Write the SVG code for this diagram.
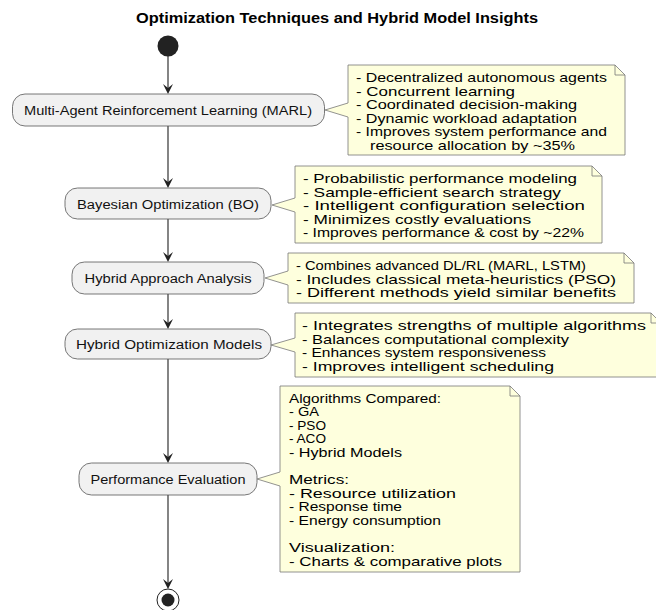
<svg xmlns="http://www.w3.org/2000/svg" width="656" height="610" viewBox="0 0 656 610">
<defs>
<style>
.title{font-family:"Liberation Sans",Arial,sans-serif;font-size:14px;font-weight:bold;fill:#000}
.node rect{fill:#F1F1F1;stroke:#555;stroke-width:0.8}
.node text{font-family:"Liberation Sans",Arial,sans-serif;font-size:12.5px;fill:#111;text-anchor:middle}
.note path.body{fill:#FEFFDD;stroke:#777;stroke-width:0.8}
.note path.fold{fill:none;stroke:#777;stroke-width:0.8}
.note text{font-family:"Liberation Sans",Arial,sans-serif;font-size:13.5px;fill:#000}
.edge{stroke:#333;stroke-width:1.2;fill:none}
.head{fill:#222}
</style>
</defs>
<rect width="656" height="610" fill="#fff"/>
<text class="title" x="136" y="23" textLength="402" lengthAdjust="spacingAndGlyphs">Optimization Techniques and Hybrid Model Insights</text>

<g id="connectors">
<line class="edge" x1="168" y1="56" x2="168" y2="90"/>
<polygon class="head" points="163,84 168,94 173,84 168,88"/>
<line class="edge" x1="168" y1="126" x2="168" y2="184"/>
<polygon class="head" points="163,178 168,188 173,178 168,182"/>
<line class="edge" x1="168" y1="219" x2="168" y2="258"/>
<polygon class="head" points="163,252 168,262 173,252 168,256"/>
<line class="edge" x1="168" y1="294" x2="168" y2="325"/>
<polygon class="head" points="163,319 168,329 173,319 168,323"/>
<line class="edge" x1="168" y1="359" x2="168" y2="459"/>
<polygon class="head" points="163,453 168,463 173,453 168,457"/>
<line class="edge" x1="168" y1="495" x2="168" y2="585"/>
<polygon class="head" points="163,579 168,589 173,579 168,583"/>
</g>

<g id="start"><circle cx="168" cy="46" r="10.5" fill="#222"/></g>
<g id="end"><circle cx="168" cy="600" r="11" fill="none" stroke="#222" stroke-width="1"/><circle cx="168" cy="600" r="6.5" fill="#222"/></g>

<g id="marl" class="node"><rect x="12.5" y="94" width="312" height="32" rx="12.5"/><text x="168" y="114.5" textLength="288" lengthAdjust="spacingAndGlyphs">Multi-Agent Reinforcement Learning (MARL)</text></g>
<g id="bo" class="node"><rect x="65" y="188" width="206" height="31" rx="12.5"/><text x="168" y="208.5" textLength="182" lengthAdjust="spacingAndGlyphs">Bayesian Optimization (BO)</text></g>
<g id="haa" class="node"><rect x="72" y="262" width="192" height="32" rx="12.5"/><text x="168" y="282.5" textLength="167" lengthAdjust="spacingAndGlyphs">Hybrid Approach Analysis</text></g>
<g id="hom" class="node"><rect x="65" y="329" width="206" height="30" rx="12.5"/><text x="169" y="348.5" textLength="186" lengthAdjust="spacingAndGlyphs">Hybrid Optimization Models</text></g>
<g id="pe" class="node"><rect x="79" y="463" width="178" height="32" rx="12.5"/><text x="168" y="483.5" textLength="155" lengthAdjust="spacingAndGlyphs">Performance Evaluation</text></g>

<g id="note1" class="note">
<path class="body" d="M348,65 L615,65 L625,75 L625,155 L348,155 L348,117 L325,110 L348,103 Z"/>
<path class="fold" d="M615,65 L615,75 L625,75"/>
<text x="356" y="82" textLength="251" lengthAdjust="spacingAndGlyphs">- Decentralized autonomous agents</text>
<text x="356" y="95.5" textLength="159" lengthAdjust="spacingAndGlyphs">- Concurrent learning</text>
<text x="356" y="109" textLength="221" lengthAdjust="spacingAndGlyphs">- Coordinated decision-making</text>
<text x="356" y="122.5" textLength="221" lengthAdjust="spacingAndGlyphs">- Dynamic workload adaptation</text>
<text x="356" y="136" textLength="251" lengthAdjust="spacingAndGlyphs">- Improves system performance and</text>
<text x="370" y="149.5" textLength="205" lengthAdjust="spacingAndGlyphs">resource allocation by ~35%</text>
</g>

<g id="note2" class="note">
<path class="body" d="M295,166 L592,166 L602,176 L602,243 L295,243 L295,212 L272,205 L295,198 Z"/>
<path class="fold" d="M592,166 L592,176 L602,176"/>
<text x="303" y="183" textLength="274" lengthAdjust="spacingAndGlyphs">- Probabilistic performance modeling</text>
<text x="303" y="196.5" textLength="258" lengthAdjust="spacingAndGlyphs">- Sample-efficient search strategy</text>
<text x="303" y="210" textLength="282" lengthAdjust="spacingAndGlyphs">- Intelligent configuration selection</text>
<text x="303" y="223.5" textLength="228" lengthAdjust="spacingAndGlyphs">- Minimizes costly evaluations</text>
<text x="303" y="237" textLength="281" lengthAdjust="spacingAndGlyphs">- Improves performance &amp; cost by ~22%</text>
</g>

<g id="note3" class="note">
<path class="body" d="M288,253 L624,253 L634,263 L634,303 L288,303 L288,285 L265,278 L288,271 Z"/>
<path class="fold" d="M624,253 L624,263 L634,263"/>
<text x="296" y="270" textLength="290" lengthAdjust="spacingAndGlyphs">- Combines advanced DL/RL (MARL, LSTM)</text>
<text x="296" y="283.5" textLength="320" lengthAdjust="spacingAndGlyphs">- Includes classical meta-heuristics (PSO)</text>
<text x="296" y="297" textLength="320" lengthAdjust="spacingAndGlyphs">- Different methods yield similar benefits</text>
</g>

<g id="note4" class="note">
<path class="body" d="M295,313 L651,313 L661,323 L661,377 L295,377 L295,352 L271,345 L295,338 Z"/>
<path class="fold" d="M651,313 L651,323 L661,323"/>
<text x="302" y="330" textLength="344" lengthAdjust="spacingAndGlyphs">- Integrates strengths of multiple algorithms</text>
<text x="302" y="343.5" textLength="267" lengthAdjust="spacingAndGlyphs">- Balances computational complexity</text>
<text x="302" y="357" textLength="244" lengthAdjust="spacingAndGlyphs">- Enhances system responsiveness</text>
<text x="302" y="370.5" textLength="252" lengthAdjust="spacingAndGlyphs">- Improves intelligent scheduling</text>
</g>

<g id="note5" class="note">
<path class="body" d="M280,386 L510,386 L520,396 L520,572 L280,572 L280,486 L257,479 L280,472 Z"/>
<path class="fold" d="M510,386 L510,396 L520,396"/>
<text x="289" y="402.5" textLength="152" lengthAdjust="spacingAndGlyphs">Algorithms Compared:</text>
<text x="289" y="416" textLength="30" lengthAdjust="spacingAndGlyphs">- GA</text>
<text x="289" y="429.5" textLength="37" lengthAdjust="spacingAndGlyphs">- PSO</text>
<text x="289" y="443" textLength="37" lengthAdjust="spacingAndGlyphs">- ACO</text>
<text x="289" y="456.5" textLength="113" lengthAdjust="spacingAndGlyphs">- Hybrid Models</text>
<text x="289" y="484" textLength="60" lengthAdjust="spacingAndGlyphs">Metrics:</text>
<text x="289" y="497.5" textLength="167" lengthAdjust="spacingAndGlyphs">- Resource utilization</text>
<text x="289" y="511" textLength="113" lengthAdjust="spacingAndGlyphs">- Response time</text>
<text x="289" y="524.5" textLength="152" lengthAdjust="spacingAndGlyphs">- Energy consumption</text>
<text x="289" y="552" textLength="106" lengthAdjust="spacingAndGlyphs">Visualization:</text>
<text x="289" y="565.5" textLength="213" lengthAdjust="spacingAndGlyphs">- Charts &amp; comparative plots</text>
</g>
</svg>
